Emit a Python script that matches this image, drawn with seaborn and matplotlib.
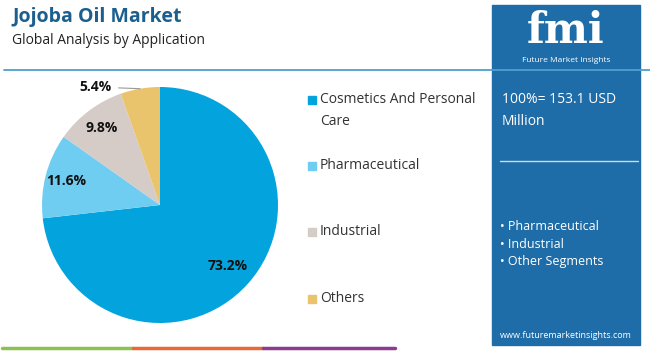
import numpy as np
import seaborn as sns
import matplotlib.pyplot as plt
from matplotlib.patches import Rectangle

# Daten
categories = ["Cosmetics And Personal\nCare", "Pharmaceutical", "Industrial", "Others"]
shares = [73.2, 11.6, 9.8, 5.4]
colors = ["#03a3dd", "#70cdf2", "#d5cbc7", "#e9c46d"]
label_dist = [0.77, 0.82, 0.82, 1.14]
total_text = "100%= 153.1 USD\nMillion"
segments = ["Pharmaceutical", "Industrial", "Other Segments"]

sns.set_theme(style="white")
plt.rcParams['font.family'] = ['Open Sans', 'DejaVu Sans']

W, H = 650, 351
fig = plt.figure(figsize=(W / 100, H / 100), dpi=100)
fig.patch.set_facecolor("white")

def fx(x):
    return x / W

def fy(y):
    return 1 - y / H

# Titel
fig.text(fx(12), fy(17), "Jojoba Oil Market", fontsize=14, fontweight="bold",
         color="#1b5f8f", va="center", ha="left")
fig.text(fx(12), fy(40), "Global Analysis by Application", fontsize=10,
         color="#222222", va="center", ha="left")
fig.add_artist(plt.Line2D([fx(4), fx(650)], [fy(70), fy(70)], color="#4f9fd0", lw=1.3))

# Farbige Linien unten
for x0, x1, c in [(2, 133, "#8cc152"), (133, 263, "#e8683a"), (263, 395, "#8e3b8e")]:
    fig.add_artist(plt.Line2D([fx(x0), fx(x1)], [fy(348), fy(348)], color=c, lw=2.5))

# Pie
r = 118
cx, cy = 160, 205
ax = fig.add_axes([fx(cx - r), fy(cy + r), 2 * r / W, 2 * r / H])
wedges, _ = ax.pie(shares, colors=colors, startangle=90, counterclock=False,
                   wedgeprops=dict(linewidth=0))
ax.set_aspect("auto")
ax.set_xlim(-1, 1)
ax.set_ylim(-1, 1)

for w, val, d in zip(wedges, shares, label_dist):
    ang = np.deg2rad((w.theta1 + w.theta2) / 2)
    x, y = d * np.cos(ang), d * np.sin(ang)
    if d > 1:
        # kleines Segment: Label aussen mit Hinweislinie
        ax.annotate(f"{val}%", xy=(np.cos(ang), np.sin(ang)), xytext=(-0.55, 1.0),
                    fontsize=10, fontweight="bold", color="#111111",
                    ha="center", va="center",
                    arrowprops=dict(arrowstyle="-", color="#9a9a9a", lw=0.8,
                                    shrinkA=3, shrinkB=0),
                    annotation_clip=False)
    else:
        ax.text(x, y, f"{val}%", fontsize=10, fontweight="bold", color="#111111",
                ha="center", va="center")

# Legende
leg_y = [100, 166, 232, 299]
for cat, c, y in zip(categories, colors, leg_y):
    fig.add_artist(Rectangle((fx(308), fy(y + 4)), 8 / W, 8 / H, color=c,
                             transform=fig.transFigure))
    fig.text(fx(320), fy(y - 8), cat, fontsize=10, color="#333333", va="top",
             ha="left", linespacing=1.6)

# Rechtes Panel
panel = "#1f6da8"
fig.add_artist(Rectangle((fx(492), fy(345)), 148 / W, 340 / H, color=panel,
                         transform=fig.transFigure))
fig.text(fx(566), fy(31), "fmi", fontsize=30, fontweight="bold", color="white",
         ha="center", va="center", family=["DejaVu Serif"])
fig.text(fx(566), fy(61), "Future Market Insights", fontsize=6, color="white",
         ha="center", va="center")
fig.text(fx(502), fy(92), total_text, fontsize=10, color="white", va="top",
         ha="left", linespacing=1.6)
fig.add_artist(plt.Line2D([fx(500), fx(638)], [fy(161), fy(161)], color="#c9dcea", lw=1))
for i, s in enumerate(segments):
    fig.text(fx(500), fy(227 + 17.5 * i), "• " + s, fontsize=9, color="white",
             va="center", ha="left")
fig.text(fx(566), fy(335), "www.futuremarketinsights.com", fontsize=6.5,
         color="white", ha="center", va="center")

fig.savefig("out.png", dpi=100)
